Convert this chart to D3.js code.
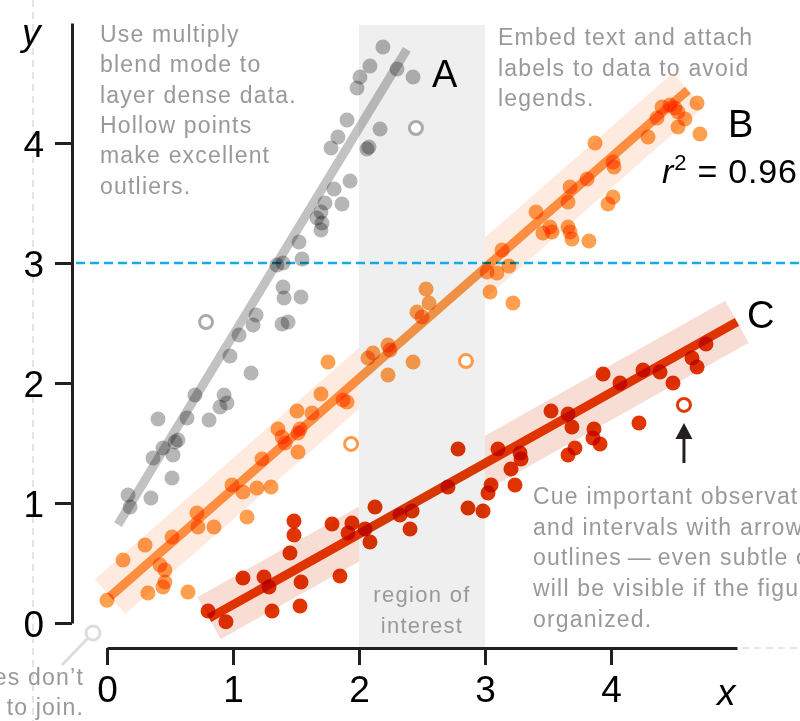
<!DOCTYPE html>
<html><head><meta charset="utf-8">
<script src="https://cdn.jsdelivr.net/npm/d3@7"></script>
<style>
html,body{margin:0;padding:0;background:#fff;overflow:hidden}
svg{display:block;font-family:"Liberation Sans",Arial,Helvetica,sans-serif}
.mult{mix-blend-mode:multiply}
</style></head>
<body>
<svg id="chart" width="800" height="721"></svg>
<script>
// ---------------- data ----------------
const xTicks = [0, 1, 2, 3, 4];
const yTicks = [0, 1, 2, 3, 4];
const xDomain = [0, 5];
const yDomain = [0, 5];
const threshold = 3;
const regionOfInterest = [2, 3];

const seriesA = [
  [2.19,4.80],[2.087,4.642],[2.302,4.617],[2.008,4.55],[1.984,4.458],[2.429,4.55],
  [1.905,4.192],[2.167,4.117],[1.833,4.05],[1.778,3.958],[2.063,3.95],[2.079,3.967],
  [1.929,3.683],[1.802,3.617],[1.865,3.492],[1.73,3.5],[1.698,3.425],[1.667,3.375],
  [1.706,3.333],[1.698,3.275],[1.524,3.175],[1.548,3.033],[1.397,3.0],[1.349,2.983],
  [1.397,2.8],[1.405,2.708],[1.54,2.717],[1.183,2.567],[1.159,2.483],[1.389,2.492],
  [1.437,2.508],[1.048,2.4],[0.976,2.225],[1.143,2.083],[0.698,1.9],[0.929,1.9],
  [0.952,1.833],[0.897,1.8],[0.405,1.7],[0.635,1.708],[0.81,1.692],[0.563,1.525],
  [0.54,1.508],[0.444,1.458],[0.524,1.4],[0.365,1.375],[0.516,1.208],[0.167,1.067],
  [0.349,1.042],[0.183,0.967]
];
const seriesB = [
  [0.0,0.19],[0.127,0.525],[0.302,0.65],[0.421,0.483],[0.46,0.442],[0.46,0.342],
  [0.444,0.3],[0.325,0.25],[0.643,0.258],[0.516,0.717],[0.714,0.917],[0.722,0.8],
  [0.849,0.8],[1.111,0.883],[0.992,1.15],[1.079,1.092],[1.19,1.125],[1.302,1.133],
  [1.23,1.367],[1.389,1.55],[1.516,1.583],[1.413,1.5],[1.516,1.425],[1.357,1.617],
  [1.532,1.617],[1.508,1.767],[1.627,1.75],[1.698,1.908],[1.873,1.858],[1.905,1.842],
  [1.754,2.175],[2.071,2.208],[2.111,2.25],[2.23,2.317],[2.246,2.275],[2.23,2.067],
  [2.429,2.175],[2.46,2.592],[2.5,2.55],[2.532,2.783],[2.556,2.667],[3.016,2.925],
  [3.095,2.917],[3.04,2.758],[3.19,2.975],[3.222,2.667],[3.135,3.108],[3.46,3.25],
  [3.532,3.258],[3.675,3.258],[3.69,3.2],[3.825,3.183],[3.405,3.425],[3.516,3.3],
  [3.659,3.3],[3.659,3.508],[3.675,3.633],[3.81,3.7],[4.016,3.55],[3.976,3.492],
  [4.016,3.842],[4.024,3.8],[3.873,4.0],[4.294,4.05],[4.365,4.208],[4.405,4.3],
  [4.468,4.317],[4.508,4.292],[4.532,4.258],[4.587,4.2],[4.532,4.133],[4.683,4.333],
  [4.706,4.075]
];
const seriesC = [
  [0.802,0.1],[0.944,0.01],[1.079,0.375],[1.246,0.383],[1.286,0.3],[1.31,0.1],
  [1.532,0.142],[1.54,0.342],[1.452,0.583],[1.484,0.85],[1.484,0.733],[1.849,0.392],
  [1.786,0.825],[1.944,0.833],[1.913,0.75],[2.048,0.783],[2.087,0.675],[2.127,0.967],
  [2.325,0.9],[2.421,0.933],[2.405,0.783],[2.706,1.133],[2.786,1.45],[2.865,0.958],
  [2.984,0.933],[3.024,1.083],[3.048,1.15],[3.103,1.45],[3.238,1.15],[3.206,1.283],
  [3.278,1.417],[3.286,1.367],[3.524,1.767],[3.659,1.742],[3.659,1.4],[3.714,1.458],
  [3.69,1.633],[3.865,1.617],[3.857,1.542],[3.913,1.492],[4.222,1.667],[3.937,2.075],
  [4.071,2.0],[4.254,2.108],[4.389,2.092],[4.492,2.0],[4.643,2.208],[4.683,2.133],
  [4.754,2.325]
];
const hollowA = [[2.452,4.125],[0.786,2.508]];
const hollowB = [[1.937,1.492],[2.849,2.183]];
const hollowC = [[4.579,1.817]];

const fitA = [[0.087,0.82],[2.38,4.78]];
const fitB = [[0.024,0.22],[4.61,4.44]];
const fitC = [[0.81,0.04],[5.0,2.51]];
const r2B = "0.96";

const seriesNames = ["A", "B", "C"];
const noteBlend = ["Use multiply", "blend mode to", "layer dense data.", "Hollow points", "make excellent", "outliers."];
const noteLabels = ["Embed text and attach", "labels to data to avoid", "legends."];
const noteCue = ["Cue important observations", "and intervals with arrows and", "outlines\u2009\u2014\u2009even subtle ones", "will be visible if the figure is", "organized."];
const noteAxes = ["Axes don\u2019t", "need to join."];
const regionLabel = ["region of", "interest"];

// ---------------- drawing ----------------
const svg = d3.select("#chart");
const x = d3.scaleLinear().domain(xDomain).range([107, 737]);
const y = d3.scaleLinear().domain(yDomain).range([623, 23]);

const col = {
  A: {pt: "#b6b6b6", line: "#c2c2c2", band: null},
  B: {pt: "#ffa050", line: "#ff9a48", band: "#feeadf"},
  C: {pt: "#e13400", line: "#e63a00", band: "#f8ddd4"}
};
const ink = "#231f20";
const noteGrey = "#999";

// guide lines (margins)
svg.append("line").attr("x1", 33).attr("x2", 33).attr("y1", 0).attr("y2", 721)
  .attr("stroke", "#ddd").attr("stroke-width", 1.5).attr("stroke-dasharray", "7,5");
svg.append("line").attr("x1", 742).attr("x2", 800).attr("y1", 648).attr("y2", 648)
  .attr("stroke", "#ddd").attr("stroke-width", 1.5).attr("stroke-dasharray", "7,5");

// confidence bands
function bandPath(fit, half) {
  const p0 = [x(fit[0][0]), y(fit[0][1])], p1 = [x(fit[1][0]), y(fit[1][1])];
  const dx = p1[0] - p0[0], dy = p1[1] - p0[1], L = Math.hypot(dx, dy);
  const nx = -dy / L * half, ny = dx / L * half;
  return `M${p0[0]+nx},${p0[1]+ny}L${p1[0]+nx},${p1[1]+ny}L${p1[0]-nx},${p1[1]-ny}L${p0[0]-nx},${p0[1]-ny}Z`;
}
svg.append("path").attr("d", bandPath(fitB, 23)).attr("fill", col.B.band);
svg.append("path").attr("d", bandPath(fitC, 24)).attr("fill", col.C.band);

// region of interest
const rx = (x(regionOfInterest[0]) + x(regionOfInterest[1])) / 2;
svg.append("rect").attr("x", x(regionOfInterest[0])).attr("width", x(regionOfInterest[1]) - x(regionOfInterest[0]))
  .attr("y", 25).attr("height", 648 - 25).attr("fill", "#efefef");
svg.append("text").attr("x", rx).attr("y", 602)
  .attr("text-anchor", "middle").attr("fill", noteGrey).attr("font-size", 22).attr("letter-spacing", 1.3)
  .selectAll("tspan").data(regionLabel).join("tspan")
  .attr("x", rx).attr("dy", (d, i) => i ? 31 : 0).text(d => d);

// threshold
svg.append("line").attr("x1", 76).attr("x2", 800).attr("y1", y(threshold)).attr("y2", y(threshold))
  .attr("stroke", "#14ace6").attr("stroke-width", 2.5).attr("stroke-dasharray", "9,5");

// axes
const yAxis = d3.axisLeft(y).tickValues(yTicks).tickSize(17).tickSizeOuter(0).tickPadding(11).tickFormat(d3.format("d"));
const xAxis = d3.axisBottom(x).tickValues(xTicks).tickSize(17).tickSizeOuter(0).tickPadding(11).tickFormat(d3.format("d"));
const gy = svg.append("g").attr("transform", "translate(72,0)").call(yAxis);
const gx = svg.append("g").attr("transform", "translate(0,648)").call(xAxis);
[gy, gx].forEach(g => {
  g.attr("font-family", null).attr("font-size", null);
  g.select(".domain").attr("stroke", ink).attr("stroke-width", 3);
  g.selectAll(".tick line").attr("stroke", ink).attr("stroke-width", 3);
  g.selectAll(".tick text").attr("fill", "#000").attr("font-size", 37);
});
gy.selectAll(".tick text").attr("dy", "0.36em");
svg.append("text").attr("x", 22).attr("y", 45).attr("font-style", "italic").attr("font-size", 37).text("y");
svg.append("text").attr("x", 717).attr("y", 705).attr("font-style", "italic").attr("font-size", 37).text("x");

// fits
const lineGen = d3.line().x(d => x(d[0])).y(d => y(d[1]));
[[fitA, col.A.line], [fitB, col.B.line], [fitC, col.C.line]].forEach(([f, c]) => {
  svg.append("path").attr("class", "mult").attr("d", lineGen(f)).attr("stroke", c)
    .attr("stroke-width", 9).attr("fill", "none");
});

// points
[[seriesA, col.A.pt], [seriesB, col.B.pt], [seriesC, col.C.pt]].forEach(([s, c]) => {
  svg.append("g").selectAll("circle").data(s).join("circle").attr("class", "mult")
    .attr("cx", d => x(d[0])).attr("cy", d => y(d[1])).attr("r", 7.5).attr("fill", c);
});
// hollow outliers
[[hollowA, "#aaa"], [hollowB, "#ff9a48"], [hollowC, "#e33a00"]].forEach(([s, c]) => {
  svg.append("g").selectAll("circle").data(s).join("circle")
    .attr("cx", d => x(d[0])).attr("cy", d => y(d[1])).attr("r", 6.5)
    .attr("fill", "#fff").attr("stroke", c).attr("stroke-width", 3);
});

// series labels
const labelPos = [[432, 87], [728, 137], [747, 328]];
seriesNames.forEach((n, i) => {
  svg.append("text").attr("x", labelPos[i][0]).attr("y", labelPos[i][1]).attr("font-size", 38).text(n);
});
const r2 = svg.append("text").attr("x", 662).attr("y", 183).attr("font-size", 34).attr("letter-spacing", 0.8);
r2.append("tspan").attr("font-style", "italic").text("r");
r2.append("tspan").attr("font-size", 22).attr("dy", -13).text("2");
r2.append("tspan").attr("dy", 13).text(" = " + r2B);

// notes
function note(lines, xPos, y0, lh, anchor) {
  const t = svg.append("text").attr("x", xPos).attr("y", y0).attr("fill", noteGrey)
    .attr("font-size", 23).attr("letter-spacing", 1.2).attr("text-anchor", anchor || "start");
  t.selectAll("tspan").data(lines).join("tspan").attr("x", xPos).attr("dy", (d, i) => i ? lh : 0).text(d => d);
}
note(noteBlend, 100, 42, 30.3);
note(noteLabels, 498, 45, 30.6);
note(noteCue, 533, 504, 30.7);
note(noteAxes, 84, 685, 30, "end");

// "axes don't need to join" pin
svg.append("line").attr("x1", 62).attr("y1", 665).attr("x2", 88).attr("y2", 638)
  .attr("stroke", "#ddd").attr("stroke-width", 3);
svg.append("circle").attr("cx", 93).attr("cy", 633).attr("r", 7)
  .attr("fill", "#fff").attr("stroke", "#ddd").attr("stroke-width", 3);

// arrow to outlier
const ax = x(hollowC[0][0]);
svg.append("line").attr("x1", ax).attr("x2", ax).attr("y1", 463).attr("y2", 436)
  .attr("stroke", ink).attr("stroke-width", 3);
svg.append("path").attr("d", `M${ax},${423}L${ax-8.5},${439}L${ax+8.5},${439}Z`).attr("fill", ink);
</script>
</body></html>
